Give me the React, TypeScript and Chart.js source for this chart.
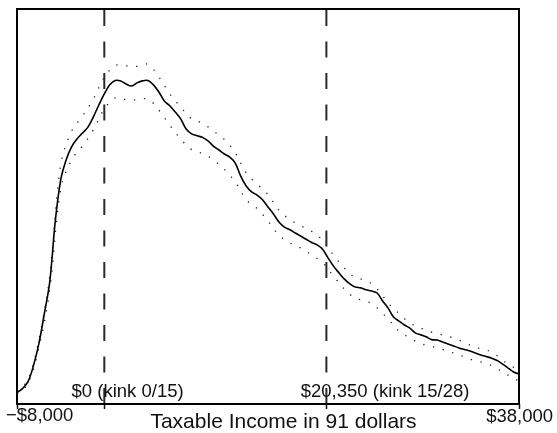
import React, { useEffect, useRef } from "react";
import { Chart, registerables } from "chart.js";

Chart.register(...registerables);

// Taxable income grid (91 dollars) for the kernel density estimate
const incomeFine = [
  -8000, -7500, -7000, -6500, -6000, -5500, -5000, -4500, -4000, -3500,
  -3000, -2500, -2000, -1500, -1000, -500, 0, 500, 1000, 1500,
  2000, 2500, 3000, 3500, 4000, 4500, 5000, 5500, 6000, 6500,
  7000, 7500, 8000, 8500, 9000, 9500, 10000, 10500, 11000, 11500,
  12000, 12500, 13000, 13500, 14000, 14500, 15000, 15500, 16000, 16500,
  17000, 17500, 18000, 18500, 19000, 19500, 20000, 20500, 21000, 21500,
  22000, 22500, 23000, 23500, 24000, 24500, 25000, 25500, 26000, 26500,
  27000, 27500, 28000, 28500, 29000, 29500, 30000, 30500, 31000, 31500,
  32000, 32500, 33000, 33500, 34000, 34500, 35000, 35500, 36000, 36500,
  37000, 37500, 38000,
];

// Density estimate (relative units, 0..100 of the plot height)
const density = [
  2.9, 3.9, 5.6, 9.6, 15.2, 22.8, 30.9, 46.1, 56.7, 61.8,
  65.1, 67.1, 68.6, 70.1, 72.7, 75.7, 78.5, 80.8, 81.9, 81.8,
  81.0, 80.5, 81.3, 81.8, 81.9, 80.8, 79.0, 76.7, 75.5, 73.9,
  72.2, 69.6, 68.4, 67.9, 67.5, 66.6, 65.3, 64.3, 63.3, 62.5,
  61.0, 57.7, 55.2, 53.7, 52.9, 51.7, 49.9, 48.1, 46.1, 44.8,
  44.1, 43.3, 42.5, 41.7, 40.9, 40.3, 39.2, 37.0, 34.9, 33.2,
  31.6, 30.4, 29.6, 29.4, 28.9, 28.6, 28.1, 26.1, 24.3, 22.0,
  21.0, 20.0, 19.2, 18.0, 17.5, 17.0, 16.3, 16.2, 15.7, 15.2,
  14.7, 14.2, 13.8, 13.4, 12.9, 12.4, 12.0, 11.6, 11.0, 10.1,
  9.1, 8.1, 7.6,
];

const incomeCoarse = [
  -8000, -7000, -6000, -5000, -4000, -3000, -2000, -1000, 0, 1000,
  2000, 3000, 4000, 5000, 6000, 7000, 8000, 9000, 10000, 11000,
  12000, 13000, 14000, 15000, 16000, 17000, 18000, 19000, 20000, 21000,
  22000, 23000, 24000, 25000, 26000, 27000, 28000, 29000, 30000, 31000,
  32000, 33000, 34000, 35000, 36000, 37000, 38000,
];

const upperBand = [
  3.2, 6.1, 16.2, 32.4, 60.5, 69.0, 72.9, 77.2, 82.7, 85.7,
  85.6, 85.5, 86.0, 82.8, 78.5, 75.2, 72.2, 71.1, 69.1, 67.0,
  63.6, 58.5, 55.7, 53.0, 49.1, 46.7, 45.1, 43.7, 41.5, 37.7,
  34.4, 32.0, 31.3, 29.1, 25.6, 22.9, 20.5, 19.2, 18.2, 17.5,
  16.7, 15.6, 14.3, 13.7, 12.2, 10.1, 8.6,
];

const lowerBand = [
  2.5, 5.1, 14.2, 28.9, 54.4, 61.8, 65.3, 69.4, 74.7, 77.5,
  77.1, 77.0, 77.2, 74.4, 70.6, 67.1, 64.4, 63.4, 61.8, 59.4,
  56.2, 51.7, 49.5, 46.3, 42.8, 40.8, 39.5, 37.7, 35.8, 32.4,
  29.1, 26.8, 26.1, 24.3, 21.5, 18.5, 16.7, 15.3, 14.6, 13.8,
  12.9, 11.9, 10.9, 10.3, 8.9, 7.3, 5.8,
];

const xMin = -8000;
const xMax = 38000;
const tickValues = [-8000, 0, 20350, 38000];
const endLabels = ["\u2212$8,000", "$38,000"];
const kinkValues = [0, 20350];
const kinkLabels = ["$0 (kink 0/15)", "$20,350 (kink 15/28)"];
const kinkLabelAnchors = [-3000, 18000];
const xTitle = "Taxable Income in 91 dollars";

const FONT = "'Liberation Sans', Arial, Helvetica, sans-serif";

const decorPlugin = {
  id: "decor",
  afterDraw(chart: any) {
    const { ctx, chartArea } = chart;
    const xs = chart.scales.x;
    const { left, right, top, bottom } = chartArea;
    ctx.save();
    // frame
    ctx.strokeStyle = "#000";
    ctx.lineWidth = 2;
    ctx.setLineDash([]);
    ctx.strokeRect(left, top, right - left, bottom - top);
    // ticks
    ctx.lineWidth = 1.5;
    ctx.strokeStyle = "#111";
    for (const v of tickValues) {
      const px = Math.round(xs.getPixelForValue(v)) + 0.5;
      ctx.beginPath();
      ctx.moveTo(px, bottom);
      ctx.lineTo(px, bottom + 5);
      ctx.stroke();
    }
    // kink annotations
    ctx.fillStyle = "#111";
    ctx.font = `18.5px ${FONT}`;
    ctx.textAlign = "left";
    ctx.textBaseline = "alphabetic";
    kinkLabels.forEach((lab, i) => {
      ctx.fillText(lab, xs.getPixelForValue(kinkLabelAnchors[i]), bottom - 7.5);
    });
    // end tick labels
    ctx.textAlign = "left";
    ctx.fillText(endLabels[0], xs.getPixelForValue(xMin) - 11, bottom + 17);
    ctx.textAlign = "right";
    ctx.fillText(endLabels[1], xs.getPixelForValue(xMax) + 34, bottom + 18);
    // axis title
    ctx.font = `21px ${FONT}`;
    ctx.textAlign = "center";
    ctx.fillText(xTitle, 283.5, bottom + 24);
    ctx.restore();
  },
};

export default function App() {
  const ref = useRef<HTMLCanvasElement | null>(null);
  useEffect(() => {
    document.body.style.margin = "0";
    const canvas = ref.current!;
    const vline = (v: number) => ({
      data: [
        { x: v, y: 0 },
        { x: v, y: 100 },
      ],
      borderColor: "#2a2a2a",
      borderWidth: 2,
      borderDash: [16, 15.5],
      pointRadius: 0,
      tension: 0,
      order: 3,
    });
    const chart = new Chart(canvas, {
      type: "line",
      data: {
        datasets: [
          {
            data: incomeFine.map((x, i) => ({ x, y: density[i] })),
            borderColor: "#000",
            borderWidth: 1.6,
            pointRadius: 0,
            tension: 0.35,
            order: 0,
          },
          {
            data: incomeCoarse.map((x, i) => ({ x, y: upperBand[i] })),
            borderColor: "#222",
            borderWidth: 1.3,
            borderDash: [1.3, 8.7],
            pointRadius: 0,
            tension: 0.35,
            order: 1,
          },
          {
            data: incomeCoarse.map((x, i) => ({ x, y: lowerBand[i] })),
            borderColor: "#222",
            borderWidth: 1.3,
            borderDash: [1.3, 8.7],
            pointRadius: 0,
            tension: 0.35,
            order: 2,
          },
          ...kinkValues.map(vline),
        ],
      },
      options: {
        responsive: false,
        animation: false,
        layout: { padding: { left: 17, right: 38, top: 9, bottom: 29 } },
        plugins: { legend: { display: false }, tooltip: { enabled: false } },
        scales: {
          x: { type: "linear", min: xMin, max: xMax, display: false },
          y: { type: "linear", min: 0, max: 100, display: false },
        },
      },
      plugins: [decorPlugin],
    });
    return () => chart.destroy();
  }, []);
  return (
    <div style={{ width: 557, height: 433, background: "#fff" }}>
      <canvas ref={ref} width={557} height={433} style={{ display: "block" }} />
    </div>
  );
}
